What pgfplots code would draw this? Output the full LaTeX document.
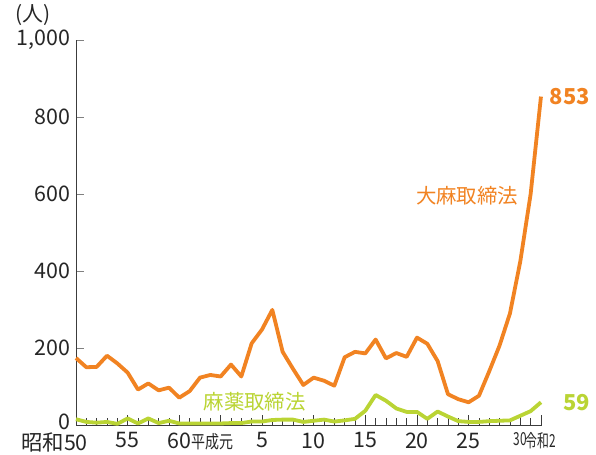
\documentclass[border=0pt]{standalone}
\usepackage{pgfplots}
\pgfplotsset{compat=1.18}
\usepackage{graphicx}
\usepackage{fontspec}
\setmainfont{Noto Sans CJK JP}
\definecolor{taima}{RGB}{241,131,34}
\definecolor{mayaku}{RGB}{186,212,52}
\definecolor{axgray}{RGB}{60,60,60}
\newcommand{\sm}{\fontsize{18}{18}\selectfont}
\newcommand{\cond}[2][0.66]{\scalebox{#1}[1]{\sm #2}}
\begin{document}
\begin{tikzpicture}
\path[use as bounding box] (-76bp,-30bp) rectangle (520bp,425bp);
\begin{axis}[
    at={(0,0)}, anchor=south west,
    scale only axis,
    width=466bp, height=385bp,
    xmin=0, xmax=45.1,
    ymin=0, ymax=1000,
    axis lines*=left,
    axis line style={axgray, line width=0.9pt},
    clip=false,
    ytick={0,200,400,600,800,1000},
    yticklabels={\raisebox{6bp}{0}, 200, 400, 600, 800, {1,000}},
    xtick={0,5,10,14,18,23,28,33,38,43,45},
    xticklabels={\llap{昭和}50, 55, 60\rlap{\cond[0.78]{平成元}}, {}, 5, 10, 15, 20, 25, \cond{30}, \cond{令和2}},
    minor xtick={0,...,45},
    tick align=inside,
    major tick length=10bp,
    minor tick length=7bp,
    every tick/.style={axgray, line width=0.7pt},
    y tick style={gray, line width=0.8pt},
    ytick style={/pgfplots/major tick length=8bp},
    tick label style={font=\fontsize{21.5}{21.5}\selectfont, text=black!85},
    yticklabel style={xshift=-2bp},
    xticklabel style={yshift=-4bp},
    every axis plot/.append style={line width=3.8bp, line join=round, no markers},
  ]
\addplot[taima] coordinates {
  (0,174) (1,150) (2,151) (3,180) (4,160) (5,136) (6,92) (7,108) (8,90) (9,97)
  (10,71) (11,88) (12,123) (13,130) (14,126) (15,157) (16,126) (17,212) (18,248) (19,299)
  (20,190) (21,146) (22,104) (23,123) (24,115) (25,102) (26,176) (27,190) (28,186) (29,222)
  (30,173) (31,187) (32,177) (33,227) (34,211) (35,166) (36,80) (37,67) (38,59) (39,76)
  (40,140) (41,207) (42,290) (43,425) (44,600) (45,853)};
\addplot[mayaku] coordinates {
  (0,15) (1,8) (2,6) (3,8) (4,3) (5,17) (6,4) (7,17) (8,5) (9,11)
  (10,4) (11,4) (12,4) (13,4) (14,4) (15,5) (16,5) (17,9) (18,9) (19,13)
  (20,14) (21,14) (22,8) (23,11) (24,14) (25,9) (26,12) (27,16) (28,37) (29,78)
  (30,63) (31,43) (32,34) (33,34) (34,16) (35,35) (36,22) (37,10) (38,8) (39,8)
  (40,10) (41,11) (42,12) (43,24) (44,36) (45,59)};
\node[font=\fontsize{21}{21}\selectfont, text=black!85] at (axis cs:-4.15,1065) {(人)};
\node[anchor=west, font=\fontsize{22}{22}\selectfont\bfseries, text=taima] at (axis cs:45.5,853) {853};
\node[anchor=west, font=\fontsize{22}{22}\selectfont\bfseries, text=mayaku] at (axis cs:46.8,59) {59};
\node[font=\fontsize{20.5}{20.5}\selectfont, text=taima] at (axis cs:37.85,595) {大麻取締法};
\node[font=\fontsize{20.5}{20.5}\selectfont, text=mayaku] at (axis cs:17.3,60) {麻薬取締法};
\end{axis}
\end{tikzpicture}
\end{document}
